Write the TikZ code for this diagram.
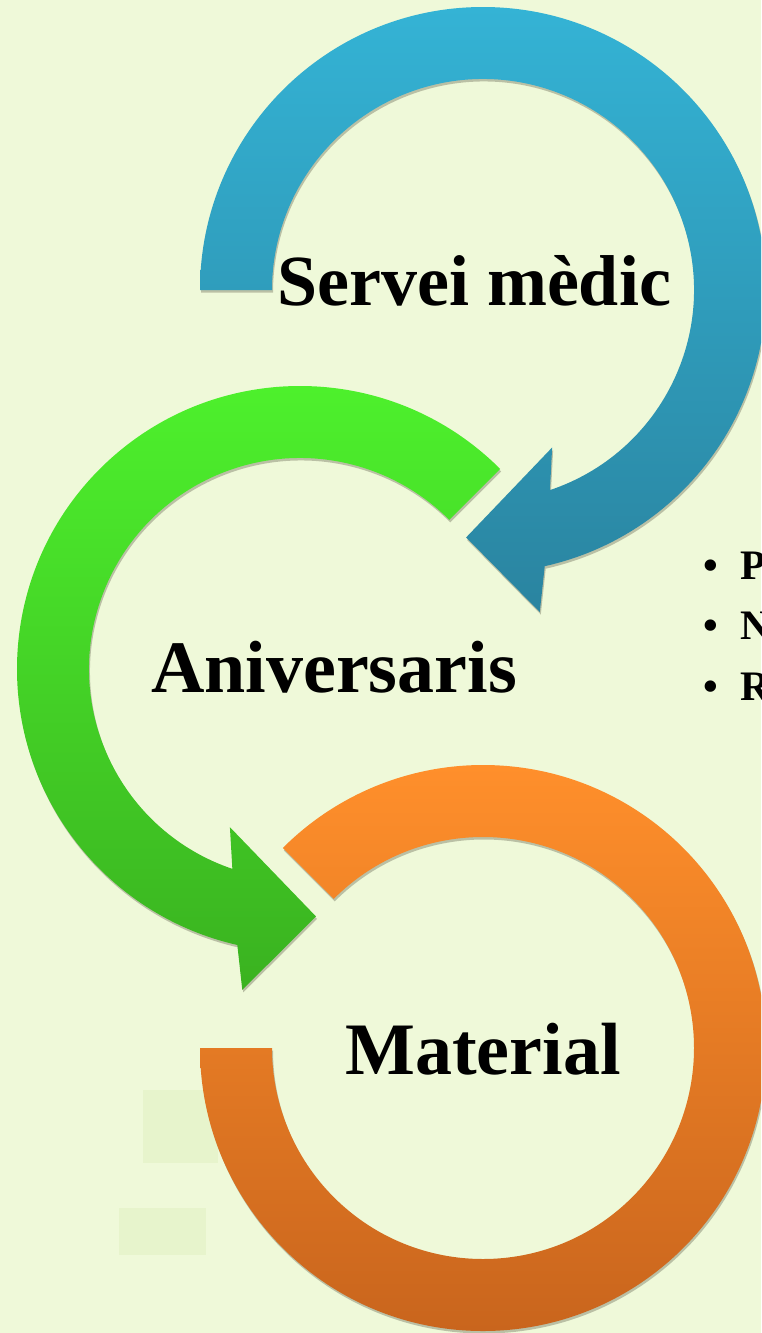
\documentclass[tikz,border=0pt]{standalone}
\usepackage{fontspec}
\setmainfont{Liberation Serif}
\usetikzlibrary{calc,shadows}

\definecolor{fons}{HTML}{EFF9D9}
\definecolor{tenue}{HTML}{E7F4CC}
\definecolor{blauA}{HTML}{34B3D5}
\definecolor{blauB}{HTML}{2A84A0}
\definecolor{verdA}{HTML}{4EF32D}
\definecolor{verdB}{HTML}{3AB220}
\definecolor{tarA}{HTML}{FF8F2B}
\definecolor{tarB}{HTML}{C9651D}

\begin{document}
\begin{tikzpicture}[x=1pt,y=1pt,
    titol/.style={font=\fontsize{72}{80}\selectfont\bfseries,inner sep=0pt},
    gran/.style={font=\fontsize{74}{82}\selectfont\bfseries,inner sep=0pt},
    punt/.style={font=\fontsize{42}{50}\selectfont\bfseries,inner sep=0pt},
    ombra/.style={drop shadow={shadow xshift=1pt,shadow yshift=-2.5pt,opacity=.3,fill=black!70!olive}}]

    \useasboundingbox (0,0) rectangle (761,-1333);
    \fill[fons] (0,0) rectangle (761,-1333);
    \clip (0,0) rectangle (761,-1333);

    \coordinate (cb) at (483,-290);  % blau
    \coordinate (cg) at (300,-669);  % verd
    \coordinate (co) at (483,-1048); % taronja

    \fill[tenue] (143,-1090) rectangle (218,-1163);
    \fill[tenue] (119,-1208) rectangle (206,-1255);

    % taronja
    \path[ombra,top color=tarA,bottom color=tarB]
        ($(co)+(180:283pt)$) arc[start angle=180,end angle=495,radius=283pt]
        -- ($(co)+(135:211pt)$) arc[start angle=495,end angle=180,radius=211pt] -- cycle;

    % verd
    \path[ombra,top color=verdA,bottom color=verdB]
        ($(cg)+(45:283pt)$) arc[start angle=45,end angle=257.2,radius=283pt]
        -- ($(cg)+(259.8:326pt)$) -- ($(cg)+(273.7:248pt)$) -- ($(cg)+(246.1:173pt)$)
        -- ($(cg)+(251.3:211pt)$) arc[start angle=251.3,end angle=45,radius=211pt] -- cycle;

    % blau
    \path[ombra,top color=blauA,bottom color=blauB]
        ($(cb)+(180:283pt)$) arc[start angle=180,end angle=-77.4,radius=283pt]
        -- ($(cb)+(-80:327pt)$) -- ($(cb)+(-93.9:248pt)$) -- ($(cb)+(-66.3:172pt)$)
        -- ($(cb)+(-71.5:211pt)$) arc[start angle=-71.5,end angle=180,radius=211pt] -- cycle;

    \node[titol,anchor=base] (sm) at (474,-305) {Servei mèdic};
    \node[gran,anchor=base] (an) at (334,-692) {Aniversaris};
    \node[gran,anchor=base] (ma) at (483,-1074) {Material};

    \foreach \lletra [count=\i] in {P,N,R} {
        \node[punt,anchor=base] (b\i) at (711,{-579-60.5*(\i-1)}) {•};
        \node[punt,anchor=base west] (t\i) at (740,{-579-60.5*(\i-1)}) {\lletra};
    }
\end{tikzpicture}
\end{document}
